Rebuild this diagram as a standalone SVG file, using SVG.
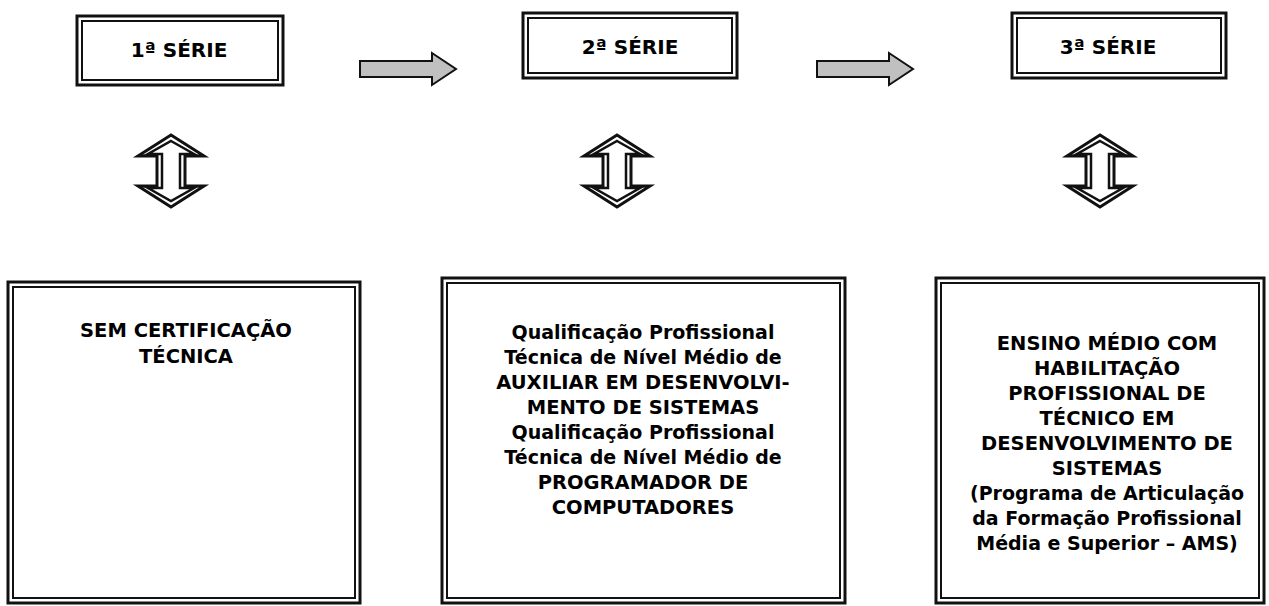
<svg xmlns="http://www.w3.org/2000/svg" width="1269" height="606" viewBox="0 0 1269 606">
<style>
.o{fill:none;stroke:#111;stroke-width:3}
.i{fill:none;stroke:#111;stroke-width:2}
.t{font-family:"DejaVu Sans","Liberation Sans",sans-serif;font-weight:bold;font-size:20px;fill:#000;text-anchor:middle}
.b{font-family:"DejaVu Sans","Liberation Sans",sans-serif;font-weight:bold;font-size:19.5px;fill:#000;text-anchor:middle}
.l{font-size:19px}
.ha{fill:#c0c0c0;stroke:#111;stroke-width:2;stroke-linejoin:miter}
.va{fill:#fff;stroke:#111;stroke-width:3;stroke-linejoin:miter}
.vi{fill:none;stroke:#111;stroke-width:2.5;stroke-linejoin:miter}
</style>
<defs>
<g id="ud">
<polygon class="va" points="0,-36 33,-15 14,-15 14,15 33,15 0,36 -33,15 -14,15 -14,-15 -33,-15"/>
<polygon class="vi" points="0,-30 23,-17 9,-17 9,17 23,17 0,30 -23,17 -9,17 -9,-17 -23,-17"/>
</g>
</defs>
<g id="serie1">
<rect class="o" x="77" y="16" width="206" height="69"/>
<rect class="i" x="82" y="21" width="196" height="59"/>
<text class="t" x="179" y="57">1ª SÉRIE</text>
</g>
<g id="serie2">
<rect class="o" x="523" y="13" width="214" height="65"/>
<rect class="i" x="528" y="18" width="204" height="55"/>
<text class="t" x="630" y="54">2ª SÉRIE</text>
</g>
<g id="serie3">
<rect class="o" x="1012" y="13" width="214" height="65"/>
<rect class="i" x="1017" y="18" width="204" height="55"/>
<text class="t" x="1108" y="54">3ª SÉRIE</text>
</g>
<g id="connectors">
<polygon class="ha" points="360,61 432,61 432,53 456,69 432,85 432,77 360,77"/>
<polygon class="ha" points="817,61 889,61 889,53 913,69 889,85 889,77 817,77"/>
<use href="#ud" x="171" y="171"/>
<use href="#ud" x="617" y="171"/>
<use href="#ud" x="1100" y="171"/>
</g>
<g id="cert1">
<rect class="o" x="8" y="282" width="352" height="321"/>
<rect class="i" x="13" y="287" width="342" height="311"/>
<text class="b" x="186" y="337">SEM CERTIFICAÇÃO</text>
<text class="b" x="186" y="363">TÉCNICA</text>
</g>
<g id="cert2">
<rect class="o" x="442" y="278" width="403" height="325"/>
<rect class="i" x="447" y="283" width="393" height="315"/>
<text class="b l" x="643" y="339">Qualificação Profissional</text>
<text class="b l" x="643" y="364">Técnica de Nível Médio de</text>
<text class="b" x="643" y="389">AUXILIAR EM DESENVOLVI-</text>
<text class="b" x="643" y="414">MENTO DE SISTEMAS</text>
<text class="b l" x="643" y="439">Qualificação Profissional</text>
<text class="b l" x="643" y="464">Técnica de Nível Médio de</text>
<text class="b" x="643" y="489">PROGRAMADOR DE</text>
<text class="b" x="643" y="514">COMPUTADORES</text>
</g>
<g id="cert3">
<rect class="o" x="936" y="278" width="328" height="325"/>
<rect class="i" x="941" y="283" width="318" height="315"/>
<text class="b" x="1107" y="350">ENSINO MÉDIO COM</text>
<text class="b" x="1107" y="375">HABILITAÇÃO</text>
<text class="b" x="1107" y="400">PROFISSIONAL DE</text>
<text class="b" x="1107" y="425">TÉCNICO EM</text>
<text class="b" x="1107" y="450">DESENVOLVIMENTO DE</text>
<text class="b" x="1107" y="475">SISTEMAS</text>
<text class="b l" x="1107" y="500">(Programa de Articulação</text>
<text class="b l" x="1107" y="525">da Formação Profissional</text>
<text class="b l" x="1107" y="550">Média e Superior – AMS)</text>
</g>
</svg>
